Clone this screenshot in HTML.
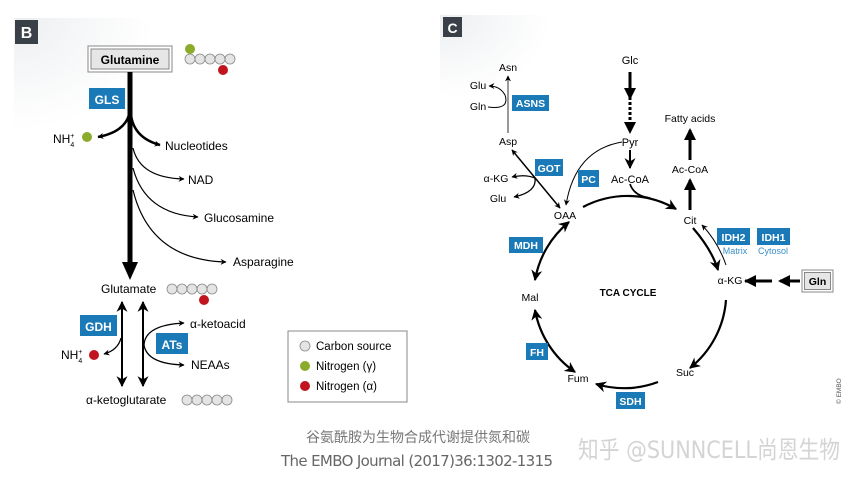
<!DOCTYPE html>
<html><head><meta charset="utf-8"><style>
body{margin:0;background:#fff}
svg{display:block;font-family:"Liberation Sans",Arial,sans-serif}
</style></head><body>
<svg width="859" height="484" viewBox="0 0 859 484" xmlns="http://www.w3.org/2000/svg">
<defs>
<marker id="a" viewBox="0 0 10 10" refX="9" refY="5" markerWidth="6" markerHeight="6" orient="auto-start-reverse" markerUnits="userSpaceOnUse"><path d="M0,0 L10,5 L0,10 L3,5z" fill="#000"/></marker>
<marker id="ab" viewBox="0 0 10 10" refX="9" refY="5" markerWidth="11" markerHeight="11" orient="auto-start-reverse" markerUnits="userSpaceOnUse"><path d="M0,0 L10,5 L0,10 L3,5z" fill="#000"/></marker>
<radialGradient id="g" cx="0" cy="0" r="0.7"><stop offset="0" stop-color="#eceef0"/><stop offset="0.5" stop-color="#f6f7f8"/><stop offset="1" stop-color="#fff"/></radialGradient>
</defs>
<rect x="14" y="18" width="200" height="160" fill="url(#g)"/>
<rect x="440" y="15" width="160" height="120" fill="url(#g)"/>
<!-- Panel B -->
<rect x="15" y="20" width="23" height="24" fill="#3a4047"/>
<text x="26.5" y="38" font-size="16" font-weight="bold" fill="#fff" text-anchor="middle">B</text>
<rect x="88" y="46" width="84" height="26" fill="#fff" stroke="#888"/>
<rect x="91" y="49" width="78" height="20" fill="#e6e6e6" stroke="#888"/>
<text x="130" y="64" font-size="12" font-weight="bold" text-anchor="middle">Glutamine</text>
<g fill="#e4e4e4" stroke="#888" stroke-width="0.8">
<circle cx="190" cy="59" r="5"/><circle cx="200" cy="59" r="5"/><circle cx="210" cy="59" r="5"/><circle cx="220" cy="59" r="5"/><circle cx="230" cy="59" r="5"/>
</g>
<circle cx="190" cy="49" r="5" fill="#8bab2b"/><circle cx="223" cy="70" r="5" fill="#c0141f"/>
<line x1="130" y1="72" x2="130" y2="262" stroke="#000" stroke-width="5"/>
<path d="M122,262 L138,262 L130,280z"/>
<rect x="89" y="88" width="36" height="21" fill="#1a7ab8"/>
<text x="107" y="104" font-size="12" font-weight="bold" fill="#fff" text-anchor="middle">GLS</text>
<text x="53" y="143" font-size="12">NH<tspan font-size="7" dy="4">4</tspan><tspan font-size="7" dx="-4" dy="-9">+</tspan></text>
<circle cx="87" cy="137" r="5" fill="#8bab2b"/>
<g fill="none" stroke="#000">
<path d="M129,115 Q124,132 98,137" stroke-width="2.5" marker-end="url(#a)"/>
<path d="M131,115 Q134,138 160,145" stroke-width="2.5" marker-end="url(#a)"/>
<path d="M133,148 Q140,178 184,179" stroke-width="1.2" marker-end="url(#a)"/>
<path d="M133,168 Q145,214 198,217" stroke-width="1.2" marker-end="url(#a)"/>
<path d="M133,190 Q150,260 226,262" stroke-width="1.2" marker-end="url(#a)"/>
</g>
<text x="165" y="150" font-size="12">Nucleotides</text>
<text x="188" y="184" font-size="12">NAD</text>
<text x="204" y="222" font-size="12">Glucosamine</text>
<text x="233" y="266" font-size="12">Asparagine</text>
<text x="101" y="293" font-size="12">Glutamate</text>
<g fill="#e4e4e4" stroke="#888" stroke-width="0.8">
<circle cx="172" cy="289" r="5"/><circle cx="182" cy="289" r="5"/><circle cx="192" cy="289" r="5"/><circle cx="202" cy="289" r="5"/><circle cx="212" cy="289" r="5"/>
</g>
<circle cx="204" cy="300" r="5" fill="#c0141f"/>
<line x1="122" y1="302" x2="122" y2="386" stroke="#000" stroke-width="2" marker-start="url(#ab)" marker-end="url(#ab)"/>
<line x1="143" y1="302" x2="143" y2="386" stroke="#000" stroke-width="2" marker-start="url(#ab)" marker-end="url(#ab)"/>
<rect x="80" y="315" width="37" height="21" fill="#1a7ab8"/>
<text x="98.5" y="331" font-size="12" font-weight="bold" fill="#fff" text-anchor="middle">GDH</text>
<rect x="156" y="333" width="32" height="21" fill="#1a7ab8"/>
<text x="172" y="349" font-size="12" font-weight="bold" fill="#fff" text-anchor="middle">ATs</text>
<g fill="none" stroke="#000" stroke-width="1.3">
<path d="M121,338 Q118,350 104,354" marker-end="url(#a)"/>
<path d="M144,345 Q145,325 184,323" marker-end="url(#a)"/>
<path d="M144,345 Q147,364 184,365" marker-end="url(#a)"/>
</g>
<text x="190" y="328" font-size="12">α-ketoacid</text>
<text x="191" y="369" font-size="12">NEAAs</text>
<text x="61" y="359" font-size="12">NH<tspan font-size="7" dy="4">4</tspan><tspan font-size="7" dx="-4" dy="-9">+</tspan></text>
<circle cx="94" cy="355" r="5" fill="#c0141f"/>
<text x="86" y="404" font-size="12">α-ketoglutarate</text>
<g fill="#e4e4e4" stroke="#888" stroke-width="0.8">
<circle cx="187" cy="400" r="5"/><circle cx="197" cy="400" r="5"/><circle cx="207" cy="400" r="5"/><circle cx="217" cy="400" r="5"/><circle cx="227" cy="400" r="5"/>
</g>
<rect x="288" y="331" width="119" height="71" fill="#fff" stroke="#888"/>
<circle cx="305" cy="346" r="5" fill="#e4e4e4" stroke="#888" stroke-width="0.8"/>
<circle cx="305" cy="366" r="5" fill="#8bab2b"/>
<circle cx="305" cy="386" r="5" fill="#c0141f"/>
<text x="316" y="350" font-size="11.5">Carbon source</text>
<text x="316" y="370" font-size="11.5">Nitrogen (γ)</text>
<text x="316" y="390" font-size="11.5">Nitrogen (α)</text>
<!-- Panel C -->
<rect x="443" y="17" width="19" height="20" fill="#3a4047"/>
<text x="452.5" y="33" font-size="14" font-weight="bold" fill="#fff" text-anchor="middle">C</text>
<text x="630" y="64" font-size="11" text-anchor="middle">Glc</text>
<line x1="630" y1="72" x2="630" y2="100" stroke="#000" stroke-width="3"/>
<path d="M624,88 L636,88 L630,100z"/>
<line x1="630" y1="102" x2="630" y2="124" stroke="#000" stroke-width="3" stroke-dasharray="3,2"/>
<path d="M624,122 L636,122 L630,134z"/>
<text x="630" y="146" font-size="11" text-anchor="middle">Pyr</text>
<line x1="630" y1="150" x2="630" y2="168" stroke="#000" stroke-width="2" marker-end="url(#ab)"/>
<text x="630" y="183" font-size="11" text-anchor="middle">Ac-CoA</text>
<text x="508" y="71" font-size="10.5" text-anchor="middle">Asn</text>
<text x="478" y="89" font-size="10.5" text-anchor="middle">Glu</text>
<text x="478" y="110" font-size="10.5" text-anchor="middle">Gln</text>
<line x1="508" y1="133" x2="508" y2="76" stroke="#555" stroke-width="1.2" marker-end="url(#a)"/>
<path d="M488,107 Q510,110 505,95 Q500,86 489,86" fill="none" stroke="#000" stroke-width="1" marker-end="url(#a)"/>
<rect x="512" y="95" width="37" height="16" fill="#1a7ab8"/>
<text x="530.5" y="107" font-size="10.5" font-weight="bold" fill="#fff" text-anchor="middle">ASNS</text>
<text x="508" y="145" font-size="10.5" text-anchor="middle">Asp</text>
<line x1="512" y1="150" x2="560" y2="208" stroke="#000" stroke-width="1.5" marker-start="url(#a)" marker-end="url(#a)"/>
<rect x="535" y="159" width="28" height="17" fill="#1a7ab8"/>
<text x="549" y="172" font-size="10.5" font-weight="bold" fill="#fff" text-anchor="middle">GOT</text>
<text x="496" y="182" font-size="10.5" text-anchor="middle">α-KG</text>
<text x="498" y="202" font-size="10.5" text-anchor="middle">Glu</text>
<path d="M535,178 Q525,174 512,177" fill="none" stroke="#000" stroke-width="1.3" marker-end="url(#a)"/>
<path d="M535,178 Q537,192 514,197" fill="none" stroke="#000" stroke-width="1.3" marker-end="url(#a)"/>
<path d="M622,142 Q575,150 566,205" fill="none" stroke="#000" stroke-width="1" marker-end="url(#a)"/>
<rect x="578" y="170" width="21" height="17" fill="#1a7ab8"/>
<text x="588.5" y="183" font-size="10.5" font-weight="bold" fill="#fff" text-anchor="middle">PC</text>
<text x="565" y="219" font-size="10.5" text-anchor="middle">OAA</text>
<text x="690" y="122" font-size="10.5" text-anchor="middle">Fatty acids</text>
<text x="690" y="173" font-size="10.5" text-anchor="middle">Ac-CoA</text>
<text x="690" y="224" font-size="10.5" text-anchor="middle">Cit</text>
<line x1="690" y1="210" x2="690" y2="180" stroke="#000" stroke-width="3"/>
<path d="M684,190 L696,190 L690,178z"/>
<line x1="690" y1="160" x2="690" y2="130" stroke="#000" stroke-width="3"/>
<path d="M684,140 L696,140 L690,128z"/>
<text x="628" y="296" font-size="10" font-weight="bold" text-anchor="middle">TCA CYCLE</text>
<g fill="none" stroke="#000" stroke-width="2.2">
<path d="M583,207 A96,96 0 0 1 676,209" marker-end="url(#ab)"/>
<path d="M630,184 Q634,196 650,198" stroke-width="1.8"/>
<path d="M693,228 Q712,250 718,270" marker-end="url(#ab)"/>
<path d="M726,300 A96,96 0 0 1 690,368" marker-end="url(#ab)"/>
<path d="M658,382 A96,96 0 0 1 596,384" marker-end="url(#ab)"/>
<path d="M575,372 A96,96 0 0 1 535,310" marker-start="url(#ab)" marker-end="url(#ab)"/>
<path d="M535,280 A96,96 0 0 1 569,222" marker-start="url(#ab)" marker-end="url(#ab)"/>
</g>
<path d="M726,265 Q718,242 702,225" fill="none" stroke="#000" stroke-width="1" marker-end="url(#a)"/>
<text x="730" y="284" font-size="10.5" text-anchor="middle">α-KG</text>
<text x="685" y="376" font-size="10.5" text-anchor="middle">Suc</text>
<text x="578" y="382" font-size="10.5" text-anchor="middle">Fum</text>
<text x="530" y="301" font-size="10.5" text-anchor="middle">Mal</text>
<rect x="717" y="228" width="33" height="17" fill="#1a7ab8"/>
<text x="733.5" y="241" font-size="10.5" font-weight="bold" fill="#fff" text-anchor="middle">IDH2</text>
<rect x="757" y="228" width="33" height="17" fill="#1a7ab8"/>
<text x="773.5" y="241" font-size="10.5" font-weight="bold" fill="#fff" text-anchor="middle">IDH1</text>
<text x="735" y="254" font-size="9" fill="#3a8fc6" text-anchor="middle">Matrix</text>
<text x="773" y="254" font-size="9" fill="#3a8fc6" text-anchor="middle">Cytosol</text>
<line x1="772" y1="281" x2="745" y2="281" stroke="#000" stroke-width="3"/>
<path d="M756,275 L756,287 L744,281z"/>
<line x1="800" y1="281" x2="780" y2="281" stroke="#000" stroke-width="3"/>
<path d="M790,275 L790,287 L778,281z"/>
<rect x="802" y="270" width="31" height="22" fill="#fff" stroke="#888"/>
<rect x="804.5" y="272.5" width="26" height="17" fill="#e6e6e6" stroke="#888"/>
<text x="817.5" y="285" font-size="10.5" font-weight="bold" text-anchor="middle">Gln</text>
<rect x="509" y="237" width="34" height="16" fill="#1a7ab8"/>
<text x="526" y="249" font-size="10.5" font-weight="bold" fill="#fff" text-anchor="middle">MDH</text>
<rect x="526" y="343" width="22" height="17" fill="#1a7ab8"/>
<text x="537" y="356" font-size="10.5" font-weight="bold" fill="#fff" text-anchor="middle">FH</text>
<rect x="616" y="392" width="29" height="17" fill="#1a7ab8"/>
<text x="630.5" y="405" font-size="10.5" font-weight="bold" fill="#fff" text-anchor="middle">SDH</text>
<text x="0" y="0" font-size="6.5" fill="#555" transform="translate(841,404) rotate(-90)">© EMBO</text>
<!-- captions -->
<text x="306" y="442" font-size="14" fill="#777" font-family="'Liberation Sans','Noto Sans CJK SC',sans-serif">谷氨酰胺为生物合成代谢提供氮和碳</text>
<text x="281" y="466" font-size="15" fill="#666" font-family="'DejaVu Sans','Liberation Sans',sans-serif" textLength="272">The EMBO Journal (2017)36:1302-1315</text>
<text x="578" y="458" font-size="24" fill="#d4d4d4" font-family="'DejaVu Sans','Noto Sans CJK SC',sans-serif" textLength="262" lengthAdjust="spacingAndGlyphs">知乎 @SUNNCELL尚恩生物</text>
</svg>
</body></html>
